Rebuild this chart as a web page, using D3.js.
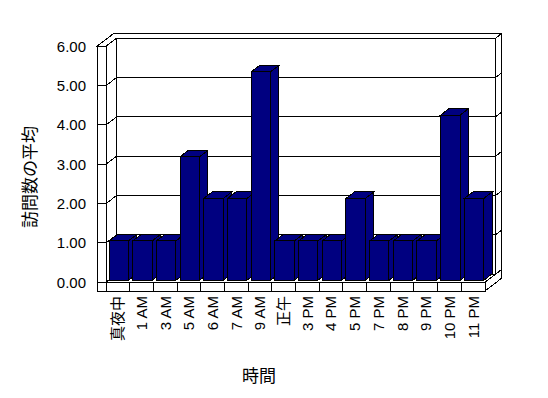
<!DOCTYPE html>
<html>
<head>
<meta charset="utf-8">
<script src="https://cdn.jsdelivr.net/npm/d3@7"></script>
<style>
  body { margin: 0; background: #fff; }
  svg { display: block; }
  text { fill: #000; }
</style>
</head>
<body>
<svg width="548" height="398"></svg>
<script>
const categories = ['真夜中', '1 AM', '3 AM', '5 AM', '6 AM', '7 AM', '9 AM', '正午',
    '3 PM', '4 PM', '5 PM', '7 PM', '8 PM', '9 PM', '10 PM', '11 PM'];
const visits = [1, 1, 1, 3.14, 2.08, 2.08, 5.3, 1, 1, 1, 2.08, 1, 1, 1, 4.2, 2.08];
const tickValues = [0, 1, 2, 3, 4, 5, 6];
const yTitle = '訪問数の平均';
const xTitle = '時間';

const svg = d3.select('svg');
const g = svg.append('g').attr('shape-rendering', 'crispEdges');

// front plane of the 3d box
const x = d3.scaleBand().domain(categories).range([106, 485]);
const y = d3.scaleLinear().domain([0, 6]).range([282.3, 46.3]);

const wallOuter = 97;        // left wall outer edge
const floorBottom = 291;     // floor front bottom edge
const ratio = 1.3;           // horizontal shift per px of depth
const inner = 8, outer = 13; // depth of back wall front / back face

const depth = (px, py, k) => [px + ratio * k, py - k];
const poly = pts => 'M' + pts.map(p => p.join(',')).join('L') + 'Z';
const line = (a, b) => g.append('path').attr('d', 'M' + a.join(',') + 'L' + b.join(','))
    .attr('stroke', '#000').attr('fill', 'none');
const face = (pts, fill) => g.append('path').attr('d', poly(pts))
    .attr('fill', fill).attr('stroke', '#000');

const x0 = x.range()[0], x1 = x.range()[1];
const yTop = y(6), yBase = y(0);

// back wall front face
face([depth(x0, yTop, inner), depth(x1, yTop, inner), depth(x1, yBase, inner), depth(x0, yBase, inner)], '#fff');
// top of walls
face([[wallOuter, yTop], [x0, yTop], depth(x0, yTop, inner), depth(x1, yTop, inner),
      depth(x1, yTop, outer), depth(wallOuter, yTop, outer)], '#fff');
// right edge of back wall
face([depth(x1, yTop, inner), depth(x1, yTop, outer), depth(x1, yBase, outer), depth(x1, yBase, inner)], '#fff');
// left wall inner face
face([[x0, yTop], depth(x0, yTop, inner), depth(x0, yBase, inner), [x0, yBase]], '#fff');
// left wall front face
face([[wallOuter, yTop], [x0, yTop], [x0, floorBottom], [wallOuter, floorBottom]], '#fff');
// floor
face([[x0, yBase], [x1, yBase], depth(x1, yBase, inner), depth(x0, yBase, inner)], '#fff');
face([[wallOuter, yBase], [x1, yBase], [x1, floorBottom], [wallOuter, floorBottom]], '#fff');
face([[x1, yBase], depth(x1, yBase, outer), depth(x1, floorBottom, outer), [x1, floorBottom]], '#fff');

// gridlines on walls
tickValues.forEach(v => {
    const yy = y(v);
    line([wallOuter, yy], [x0, yy]);
    line([x0, yy], depth(x0, yy, inner));
    line(depth(x0, yy, inner), depth(x1, yy, inner));
    line(depth(x1, yy, inner), depth(x1, yy, outer));
});

// floor dividers
categories.forEach(c => line([x(c), yBase], [x(c), floorBottom]));

// bars
const barColor = '#000080';
const barFront = 2, barDepth = 6.5;
const barWidth = x.bandwidth() * 0.82;
categories.forEach((c, i) => {
    const bx = x(c) + 0.4;
    const fl = depth(bx, y(visits[i]), barFront);
    const fr = depth(bx + barWidth, y(visits[i]), barFront);
    const bl = depth(bx, y(0), barFront);
    const br = depth(bx + barWidth, y(0), barFront);
    face([fl, fr, br, bl], barColor);
    face([fl, depth(fl[0], fl[1], barDepth), depth(fr[0], fr[1], barDepth), fr], barColor);
    face([fr, depth(fr[0], fr[1], barDepth), depth(br[0], br[1], barDepth), br], barColor);
});

// y tick labels
svg.append('g').selectAll('text').data(tickValues).join('text')
    .attr('x', 86).attr('y', d => y(d)).attr('dy', '0.36em')
    .attr('text-anchor', 'end')
    .style('font', '15px "Liberation Sans", sans-serif')
    .text(d3.format('.2f'));

// x tick labels
svg.append('g').selectAll('text').data(categories).join('text')
    .attr('transform', d => `translate(${x(d) + x.bandwidth() / 2},296) rotate(-90)`)
    .attr('dy', '0.36em')
    .attr('text-anchor', 'end')
    .style('font', '15px "Liberation Sans", "Noto Sans CJK JP", sans-serif')
    .text(d => d);

// axis titles
svg.append('text')
    .attr('transform', 'translate(30,177) rotate(-90)')
    .attr('dy', '0.36em').attr('text-anchor', 'middle')
    .style('font', '17px "Noto Sans CJK JP", sans-serif')
    .text(yTitle);

svg.append('text')
    .attr('x', 259).attr('y', 376).attr('dy', '0.36em')
    .attr('text-anchor', 'middle')
    .style('font', '17px "Noto Sans CJK JP", sans-serif')
    .text(xTitle);
</script>
</body>
</html>
